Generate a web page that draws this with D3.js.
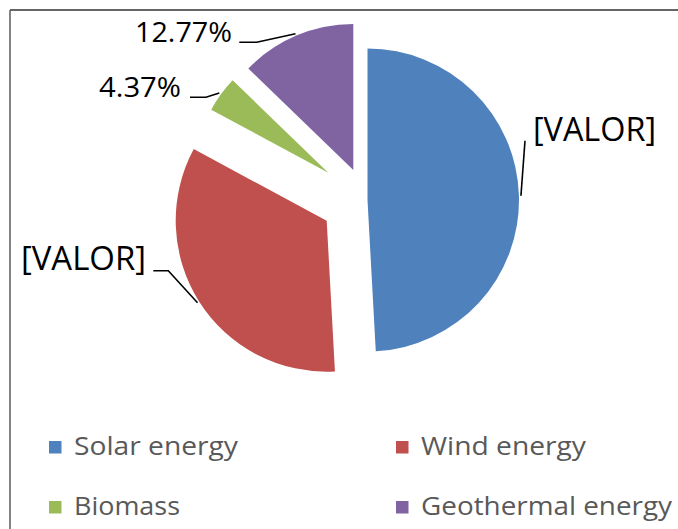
<!DOCTYPE html>
<html>
<head>
<meta charset="utf-8">
<script src="https://cdn.jsdelivr.net/npm/d3@7"></script>
<style>
  html, body { margin: 0; padding: 0; background: #fff; }
  svg { display: block; }
</style>
</head>
<body>
<svg id="chart" width="678" height="529"></svg>
<script>
// ---- data ----
const categories = ["Solar energy", "Wind energy", "Biomass", "Geothermal energy"];
const values = [49.13, 33.73, 4.37, 12.77];
const dataLabels = ["[VALOR]", "[VALOR]", "4.37%", "12.77%"];
const colors = ["#4F81BD", "#C0504D", "#9BBB59", "#8064A2"];

// ---- layout (styling constants) ----
const W = 678, H = 529;
const center = [358.9, 200.2];
const sliceOffset = [[8.6, -0.2], [-32.2, 20.5], [-30.6, -27.5], [-5.6, -30.2]]; // explode offsets
const sliceRadius = [151.5, 151, 133, 146];
const labelLayout = [
  { x: 533, y: 141, anchor: "start", size: 32, width: 123, lineStart: [525, 140.7], elbow: null },
  { x: 146, y: 270, anchor: "end", size: 32, width: 125, lineStart: [153.3, 270.7], elbow: [168.3, 270.7] },
  { x: 181, y: 97.3, anchor: "end", size: 27.6, width: 82, lineStart: [190, 97.3], elbow: [206, 97.3] },
  { x: 232, y: 42.3, anchor: "end", size: 27.6, width: 97, lineStart: [239.3, 42.3], elbow: [256.7, 42.3] }
];
const legendLayout = {
  cols: [49, 396], rows: [455, 515], sq: 12.5, textDx: 25, size: 25.6,
  widths: [164, 165, 106, 251]
};

const svg = d3.select("#chart");
svg.append("rect").attr("width", W).attr("height", H).attr("fill", "#fff");

// border (chart area frame)
svg.append("line").attr("x1", 10).attr("y1", 10).attr("x2", W).attr("y2", 10)
  .attr("stroke", "#333").attr("stroke-width", 1.6);
svg.append("line").attr("x1", 10).attr("y1", 10).attr("x2", 10).attr("y2", H)
  .attr("stroke", "#666").attr("stroke-width", 1.6);

const pie = d3.pie().sort(null).value(d => d);
const arcs = pie(values);

const g = svg.append("g").attr("transform", `translate(${center[0]},${center[1]})`);

arcs.forEach((a, i) => {
  const arc = d3.arc().innerRadius(0).outerRadius(sliceRadius[i]);
  g.append("path")
    .attr("d", arc(a))
    .attr("transform", `translate(${sliceOffset[i][0]},${sliceOffset[i][1]})`)
    .attr("fill", colors[i]);
});

// data labels with leader lines
arcs.forEach((a, i) => {
  const L = labelLayout[i];
  const mid = (a.startAngle + a.endAngle) / 2;
  const r = sliceRadius[i] + 2;
  const ex = center[0] + sliceOffset[i][0] + r * Math.sin(mid);
  const ey = center[1] + sliceOffset[i][1] - r * Math.cos(mid);
  const pts = [L.lineStart];
  if (L.elbow) pts.push(L.elbow);
  pts.push([ex, ey]);
  svg.append("path")
    .attr("d", d3.line()(pts))
    .attr("fill", "none").attr("stroke", "#000").attr("stroke-width", 1.6);
  svg.append("text")
    .attr("x", L.x).attr("y", L.y)
    .attr("text-anchor", L.anchor)
    .attr("font-family", "'Open Sans', sans-serif")
    .attr("font-size", L.size)
    .attr("fill", "#000")
    .attr("textLength", L.width)
    .attr("lengthAdjust", "spacingAndGlyphs")
    .text(dataLabels[i]);
});

// legend
categories.forEach((c, i) => {
  const col = legendLayout.cols[i % 2];
  const row = legendLayout.rows[Math.floor(i / 2)];
  svg.append("rect")
    .attr("x", col).attr("y", row - 14)
    .attr("width", legendLayout.sq).attr("height", legendLayout.sq)
    .attr("fill", colors[i]);
  svg.append("text")
    .attr("x", col + legendLayout.textDx).attr("y", row)
    .attr("font-family", "'Open Sans', sans-serif")
    .attr("font-size", legendLayout.size)
    .attr("fill", "#595959")
    .attr("textLength", legendLayout.widths[i])
    .attr("lengthAdjust", "spacingAndGlyphs")
    .text(c);
});
</script>
</body>
</html>
